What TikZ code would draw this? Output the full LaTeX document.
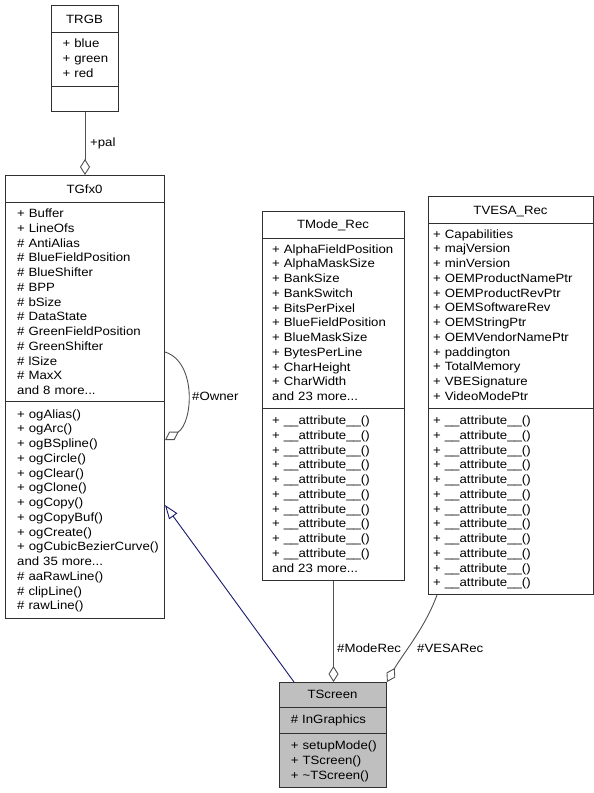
\documentclass[tikz,border=0pt]{standalone}
\usepackage{fontspec}
\setmainfont{Liberation Sans}[FakeStretch=1.1]
\usetikzlibrary{arrows.meta,calc}
\definecolor{boxc}{HTML}{303030}
\definecolor{linec}{HTML}{505050}
\definecolor{inhc}{HTML}{191970}
\definecolor{scrfill}{HTML}{BFBFBF}
\newcommand{\ft}{\fontsize{12pt}{14.75pt}\selectfont}
\newcommand{\fs}{\rule{0pt}{11pt}}
\newcommand{\attr}{\_\_attribute\_\_()}
\begin{document}
\begin{tikzpicture}[x=1pt,y=-1pt,
  classbox/.style={draw=boxc, line width=1pt, fill=white, rectangle, inner sep=0pt, anchor=north west},
  sepline/.style={draw=boxc, line width=1pt},
  ttl/.style={anchor=base, inner sep=0pt, font=\ft},
  members/.style={anchor=north west, inner sep=0pt, align=left, text width=200pt, font=\ft},
  lbl/.style={anchor=west, inner sep=0pt, font=\ft},
  conn/.style={draw=linec, line width=0.9pt},
  diam/.style={-{Diamond[open, length=16pt, width=10pt]}},
  inh/.style={draw=inhc, line width=0.9pt, -{Triangle[open, length=14pt, width=10pt]}}
]
\useasboundingbox (0,0) rectangle (594,793);

% ---------- TRGB ----------
\node[classbox, minimum width=67pt, minimum height=106pt] (rgb) at (51,5) {};
\draw[sepline] ($(rgb.north west)+(0,27)$) -- ($(rgb.north east)+(0,27)$);
\draw[sepline] ($(rgb.north west)+(0,81)$) -- ($(rgb.north east)+(0,81)$);
\node[ttl] (rgbt) at (84.5,23) {TRGB};
\node[members] (rgba) at (62.5,36.5) {\fs+ blue\\+ green\\+ red};

% ---------- TGfx0 ----------
\node[classbox, minimum width=159pt, minimum height=443pt] (gfx) at (5,175) {};
\draw[sepline] ($(gfx.north west)+(0,27)$) -- ($(gfx.north east)+(0,27)$);
\draw[sepline] ($(gfx.north west)+(0,226)$) -- ($(gfx.north east)+(0,226)$);
\node[ttl] (gfxt) at (84.5,193) {TGfx0};
\node[members] (gfxa) at (17,206.5) {\fs+ Buffer\\+ LineOfs\\\# AntiAlias\\\# BlueFieldPosition\\\# BlueShifter\\\# BPP\\\# bSize\\\# DataState\\\# GreenFieldPosition\\\# GreenShifter\\\# lSize\\\# MaxX\\and 8 more...};
\node[members] (gfxm) at (17,407) {\fs+ ogAlias()\\+ ogArc()\\+ ogBSpline()\\+ ogCircle()\\+ ogClear()\\+ ogClone()\\+ ogCopy()\\+ ogCopyBuf()\\+ ogCreate()\\+ ogCubicBezierCurve()\\and 35 more...\\\# aaRawLine()\\\# clipLine()\\\# rawLine()};

% ---------- TMode_Rec ----------
\node[classbox, minimum width=142pt, minimum height=369pt] (mode) at (262,211) {};
\draw[sepline] ($(mode.north west)+(0,27)$) -- ($(mode.north east)+(0,27)$);
\draw[sepline] ($(mode.north west)+(0,197)$) -- ($(mode.north east)+(0,197)$);
\node[ttl] (modet) at (333,228.5) {TMode\_Rec};
\node[members] (modea) at (272,241.8) {\fs+ AlphaFieldPosition\\+ AlphaMaskSize\\+ BankSize\\+ BankSwitch\\+ BitsPerPixel\\+ BlueFieldPosition\\+ BlueMaskSize\\+ BytesPerLine\\+ CharHeight\\+ CharWidth\\and 23 more...};
\node[members] (modem) at (272,413.5) {\fs+ \attr\\+ \attr\\+ \attr\\+ \attr\\+ \attr\\+ \attr\\+ \attr\\+ \attr\\+ \attr\\+ \attr\\and 23 more...};

% ---------- TVESA_Rec ----------
\node[classbox, minimum width=165pt, minimum height=398pt] (vesa) at (428,196) {};
\draw[sepline] ($(vesa.north west)+(0,27)$) -- ($(vesa.north east)+(0,27)$);
\draw[sepline] ($(vesa.north west)+(0,212)$) -- ($(vesa.north east)+(0,212)$);
\node[ttl] (vesat) at (510.5,214) {TVESA\_Rec};
\node[members] (vesaa) at (433,226.8) {\fs+ Capabilities\\+ majVersion\\+ minVersion\\+ OEMProductNamePtr\\+ OEMProductRevPtr\\+ OEMSoftwareRev\\+ OEMStringPtr\\+ OEMVendorNamePtr\\+ paddington\\+ TotalMemory\\+ VBESignature\\+ VideoModePtr};
\node[members] (vesam) at (433,413.5) {\fs+ \attr\\+ \attr\\+ \attr\\+ \attr\\+ \attr\\+ \attr\\+ \attr\\+ \attr\\+ \attr\\+ \attr\\+ \attr\\+ \attr};

% ---------- TScreen ----------
\node[classbox, fill=scrfill, minimum width=107pt, minimum height=105pt] (scr) at (279,682) {};
\draw[sepline] ($(scr.north west)+(0,25)$) -- ($(scr.north east)+(0,25)$);
\draw[sepline] ($(scr.north west)+(0,51)$) -- ($(scr.north east)+(0,51)$);
\node[ttl] (scrt) at (332.5,698.5) {TScreen};
\node[members] (scra) at (290.7,711.8) {\fs\# InGraphics};
\node[members] (scrm) at (290.7,738.5) {\fs+ setupMode()\\+ TScreen()\\+ \textasciitilde TScreen()};

% ---------- connectors ----------
% +pal
\draw[conn, diam] (rgb.south) -- (gfx.north);
\node[lbl] (lpal) at (90,143) {+pal};

% #Owner self loop
\coordinate (ow1) at ($(gfx.north east)+(0,177)$);
\coordinate (ow2) at ($(gfx.north east)+(0,265)$);
\draw[conn, diam] (ow1) .. controls (197,362) and (193,423) .. (ow2);
\node[lbl] (lowner) at (192,396) {\#Owner};

% inheritance
\coordinate (inhs) at ($(scr.north west)+(15,0)$);
\coordinate (inht) at ($(gfx.north east)+(0,330)$);
\draw[inh] (inhs) -- (inht);

% #ModeRec
\draw[conn, diam] (mode.south) -- (mode.south |- scr.north);
\node[lbl] (lmode) at (337,648) {\#ModeRec};

% #VESARec
\coordinate (vs) at ($(vesa.south west)+(9,0)$);
\draw[conn, diam] (vs) .. controls (425,628) and (402,655) .. (scr.north east);
\node[lbl] (lvesa) at (417,648) {\#VESARec};
\end{tikzpicture}
\end{document}
